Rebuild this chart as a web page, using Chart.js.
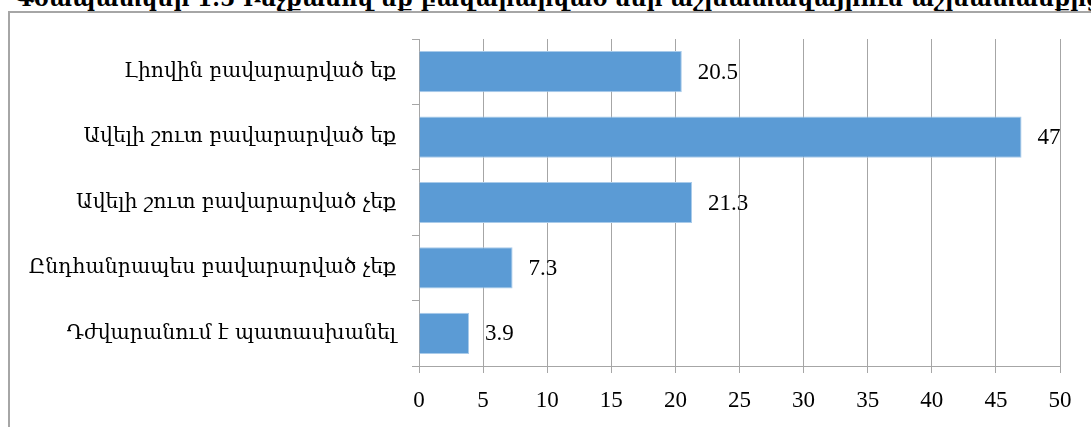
<!DOCTYPE html>
<html>
<head>
<meta charset="utf-8">
<script src="https://cdn.jsdelivr.net/npm/chart.js@4"></script>
<style>
    body { margin: 0; background: #fff; overflow: hidden; }
    #wrap { position: relative; width: 1091px; height: 427px; }
    #title {
        position: absolute; left: 14px; top: -15px; white-space: nowrap;
        font: bold 22px "DejaVu Serif", serif; color: #000;
    }
    #frame {
        position: absolute; left: 8px; top: 11px; width: 1200px; height: 500px;
        border: 2px solid #a6a6a6;
    }
    canvas { position: absolute; left: 0; top: 0; }
</style>
</head>
<body>
<div id="wrap">
    <div id="title">Գծապատկեր 1.5 Ինչքանով եք բավարարված ձեր աշխատավայրում աշխատանքից բավարարվածություն</div>
    <div id="frame"></div>
    <canvas id="chart" width="1091" height="427"></canvas>
</div>
<script>
const categories = [
    'Լիովին բավարարված եք',
    'Ավելի շուտ բավարարված եք',
    'Ավելի շուտ բավարարված չեք',
    'Ընդհանրապես բավարարված չեք',
    'Դժվարանում է պատասխանել'
];
const values = [20.5, 47, 21.3, 7.3, 3.9];
const xMin = 0;
const xMax = 50;
const xStep = 5;

const gridColor = '#a6a6a6';
const serif = '"Liberation Serif", "DejaVu Serif", serif';

// value labels right of each bar
const valueLabels = {
    id: 'valueLabels',
    afterDatasetsDraw(chart) {
        const ctx = chart.ctx;
        const meta = chart.getDatasetMeta(0);
        ctx.save();
        ctx.font = '23px ' + serif;
        ctx.fillStyle = '#000';
        ctx.textBaseline = 'middle';
        ctx.textAlign = 'left';
        meta.data.forEach(function (bar, i) {
            ctx.fillText(String(values[i]), bar.x + 16, bar.y + 1);
        });
        ctx.restore();
    }
};

new Chart(document.getElementById('chart'), {
    type: 'bar',
    data: {
        labels: categories,
        datasets: [{
            data: values,
            backgroundColor: '#5b9bd5',
            borderColor: '#a9cbea',
            borderWidth: 1,
            barPercentage: 0.63,
            categoryPercentage: 1
        }]
    },
    options: {
        indexAxis: 'y',
        responsive: false,
        animation: false,
        layout: { padding: { top: 39, right: 31, left: 0, bottom: 0 } },
        plugins: {
            legend: { display: false },
            tooltip: { enabled: false }
        },
        scales: {
            x: {
                min: xMin,
                max: xMax,
                ticks: {
                    stepSize: xStep,
                    color: '#000',
                    padding: 14,
                    font: { family: serif, size: 23 }
                },
                grid: { color: gridColor, tickLength: 7 },
                border: { color: gridColor },
                afterFit: function (scale) { scale.height = 61; }
            },
            y: {
                ticks: {
                    color: '#000',
                    padding: 16,
                    font: { family: '"DejaVu Serif", serif', size: 20.4 }
                },
                grid: { drawOnChartArea: false, color: gridColor, tickLength: 7 },
                border: { color: gridColor },
                afterFit: function (scale) { scale.width = 419; }
            }
        }
    },
    plugins: [valueLabels]
});
</script>
</body>
</html>
